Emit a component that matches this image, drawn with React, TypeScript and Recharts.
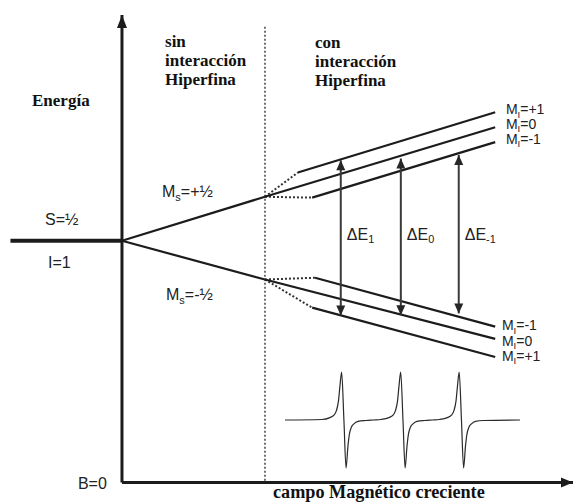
import { LineChart, Line, XAxis, YAxis, ReferenceDot } from 'recharts';

// Field B in arbitrary units (0 at the energy axis, 100 at the dashed line),
// energy E in arbitrary units (0 = zero-field level).
const fieldDomain = [-85.3, 316.1];
const energyDomain = [-59.8, 54.7];
const signalDomain = [-1.75, 8.75];

const zeroFieldLevel = [{ B: -78, E: 0 }, { B: 0, E: 0 }];
const msUpper = [{ B: 0, E: 0 }, { B: 100, E: 10 }];
const msLower = [{ B: 0, E: 0 }, { B: 100, E: -8.8 }];

// hyperfine levels, top to bottom
const upperLevels = [
  [{ B: 123, E: 15.5 }, { B: 261, E: 29.2 }],
  [{ B: 100, E: 10 }, { B: 261, E: 25.8 }],
  [{ B: 133, E: 9.8 }, { B: 261, E: 22.4 }],
];
const lowerLevels = [
  [{ B: 135, E: -8.4 }, { B: 261, E: -19.5 }],
  [{ B: 100, E: -8.8 }, { B: 261, E: -22.3 }],
  [{ B: 133, E: -15.2 }, { B: 261, E: -26.4 }],
];
const upperLabels = ['+1', '0', '-1'];
const lowerLabels = ['-1', '0', '+1'];

// transitions
const transitionField = [153, 195, 235.5];
const transitionLow = [-17.0, -16.9, -16.5];
const transitionHigh = [18.3, 18.7, 19.5];
const transitionLabels = ['1', '0', '-1'];

// EPR spectrum (first derivative), B vs signal
const spectrum = [
  { B: 114, S: 0 }, { B: 139.8, S: 0.01 }, { B: 145.4, S: 0.05 }, { B: 148.2, S: 0.1 },
  { B: 150, S: 0.2 }, { B: 151.4, S: 0.4 }, { B: 152.4, S: 0.7 }, { B: 153.6, S: 1.0 },
  { B: 155.2, S: 0 }, { B: 156.7, S: -1.0 }, { B: 158, S: -0.55 }, { B: 159, S: -0.3 },
  { B: 160.4, S: -0.15 }, { B: 162.2, S: -0.08 }, { B: 165, S: -0.03 }, { B: 170.6, S: -0.01 },
  { B: 176, S: 0 }, { B: 181.1, S: 0.01 }, { B: 186.7, S: 0.05 }, { B: 189.5, S: 0.1 },
  { B: 191.3, S: 0.2 }, { B: 192.7, S: 0.4 }, { B: 193.7, S: 0.7 }, { B: 194.9, S: 1.0 },
  { B: 196.5, S: 0 }, { B: 198, S: -1.0 }, { B: 199.3, S: -0.55 }, { B: 200.3, S: -0.3 },
  { B: 201.7, S: -0.15 }, { B: 203.5, S: -0.08 }, { B: 206.3, S: -0.03 }, { B: 211.9, S: -0.01 },
  { B: 217, S: 0 }, { B: 222, S: 0.01 }, { B: 227.6, S: 0.05 }, { B: 230.4, S: 0.1 },
  { B: 232.2, S: 0.2 }, { B: 233.6, S: 0.4 }, { B: 234.6, S: 0.7 }, { B: 235.8, S: 1.0 },
  { B: 237.4, S: 0 }, { B: 238.9, S: -1.0 }, { B: 240.2, S: -0.55 }, { B: 241.2, S: -0.3 },
  { B: 242.6, S: -0.15 }, { B: 244.4, S: -0.08 }, { B: 247.2, S: -0.03 }, { B: 252.8, S: -0.01 },
  { B: 278.3, S: 0 },
];

const energyAxis = [{ B: 0, E: -54.9 }, { B: 0, E: 51.3 }];
const fieldAxis = [{ B: 0, E: -54.9 }, { B: 315.4, E: -54.9 }];
const dividerLine = [{ B: 100, E: 48.6 }, { B: 100, E: -54.9 }];

const SANS = '"Liberation Sans", Arial, sans-serif';
const SERIF = '"Liberation Serif", "DejaVu Serif", serif';
const INK = '#1c1c1c';

type Part = { t: string; sub?: boolean };

const rich = (parts: Part[], size = 16, anchor = 'start') => (p: any) => {
  let shift = 0;
  return (
    <text x={p.cx} y={p.cy} style={{ fontFamily: SANS }} fontSize={size} fill="#222" textAnchor={anchor}>
      {parts.map((part, i) => {
        const dy = part.sub ? 3.5 - shift : -shift;
        shift = part.sub ? 3.5 : 0;
        return (
          <tspan key={i} dy={dy} fontSize={part.sub ? size * 0.68 : size}>
            {part.t}
          </tspan>
        );
      })}
    </text>
  );
};

const heading = (lines: string[], size = 17, gap = 19) => (p: any) => (
  <text
    x={p.cx}
    y={p.cy}
    style={{ fontFamily: SERIF, fontWeight: 700 }}
    fontSize={size}
    fill="#111"
  >
    {lines.map((l, i) => (
      <tspan key={i} x={p.cx} dy={i === 0 ? 0 : gap}>
        {l}
      </tspan>
    ))}
  </text>
);

const arrowUp = (w: number, h: number, fill: string) => (p: any) =>
  p.index === 1 ? (
    <polygon key={p.index} points={`${p.cx},${p.cy} ${p.cx - w / 2},${p.cy + h} ${p.cx + w / 2},${p.cy + h}`} fill={fill} />
  ) : (
    <g key={p.index} />
  );

const doubleArrow = (p: any) => {
  const w = 9;
  const h = 10;
  const pts =
    p.index === 1
      ? `${p.cx},${p.cy} ${p.cx - w / 2},${p.cy + h} ${p.cx + w / 2},${p.cy + h}`
      : `${p.cx},${p.cy} ${p.cx - w / 2},${p.cy - h} ${p.cx + w / 2},${p.cy - h}`;
  return <polygon key={p.index} points={pts} fill="#262626" />;
};

const arrowRight = (p: any) =>
  p.index === 1 ? (
    <polygon key={p.index} points={`${p.cx},${p.cy} ${p.cx - 12},${p.cy - 5} ${p.cx - 12},${p.cy + 5}`} fill={INK} />
  ) : (
    <g key={p.index} />
  );

export default function App() {
  const level = (data: any[], key: string, extra: any = {}) => (
    <Line
      key={key}
      data={data}
      dataKey="E"
      type="linear"
      stroke={INK}
      strokeWidth={2.2}
      dot={false}
      activeDot={false}
      isAnimationActive={false}
      {...extra}
    />
  );

  return (
    <div style={{ position: 'absolute', left: 0, top: 0, width: 574, height: 504, background: '#fff' }}>
      <LineChart width={574} height={504} margin={{ top: 0, right: 0, bottom: 0, left: 0 }}>
        <XAxis type="number" dataKey="B" domain={fieldDomain} hide />
        <YAxis type="number" domain={energyDomain} hide />
        <YAxis yAxisId="signal" type="number" domain={signalDomain} hide />

        {/* dashed divider */}
        {level(dividerLine, 'divider', { stroke: '#444', strokeWidth: 1.5, strokeDasharray: '2 2' })}

        {/* axes */}
        {level(energyAxis, 'eaxis', { strokeWidth: 3, dot: arrowUp(10, 13, INK) })}
        {level(fieldAxis, 'baxis', { strokeWidth: 3, dot: arrowRight })}

        {/* zero-field level and electron Zeeman levels */}
        {level(zeroFieldLevel, 'zero', { strokeWidth: 4 })}
        {level(msUpper, 'msUp')}
        {level(msLower, 'msDown')}

        {/* dotted connectors to the hyperfine levels */}
        {upperLevels.map((l, i) =>
          level([msUpper[1], l[0]], `uc${i}`, { strokeWidth: 2, strokeDasharray: '2 2', stroke: '#333' }),
        )}
        {lowerLevels.map((l, i) =>
          level([msLower[1], l[0]], `lc${i}`, { strokeWidth: 2, strokeDasharray: '2 2', stroke: '#333' }),
        )}

        {upperLevels.map((l, i) => level(l, `u${i}`))}
        {lowerLevels.map((l, i) => level(l, `l${i}`))}

        {/* transitions */}
        {transitionField.map((b, i) =>
          level(
            [
              { B: b, E: transitionLow[i] },
              { B: b, E: transitionHigh[i] },
            ],
            `t${i}`,
            { stroke: '#3a3a3a', strokeWidth: 2, dot: doubleArrow },
          ),
        )}

        {/* spectrum */}
        <Line
          data={spectrum}
          dataKey="S"
          yAxisId="signal"
          type="monotone"
          stroke="#2a2a2a"
          strokeWidth={1.2}
          dot={false}
          activeDot={false}
          isAnimationActive={false}
        />

        {/* text */}
        <ReferenceDot x={30.1} y={44.0} r={0} shape={heading(['sin', 'interacción', 'Hiperfina'])} />
        <ReferenceDot x={135} y={43.8} r={0} shape={heading(['con', 'interacción', 'Hiperfina'])} />
        <ReferenceDot x={-62.9} y={30.6} r={0} shape={heading(['Energía'])} />
        <ReferenceDot x={105.6} y={-58.5} r={0} shape={heading(['campo Magnético creciente'], 18.2)} />

        <ReferenceDot x={28} y={9.9} r={0} shape={rich([{ t: 'M' }, { t: 's', sub: true }, { t: '=+½' }])} />
        <ReferenceDot x={30.8} y={-13.5} r={0} shape={rich([{ t: 'M' }, { t: 's', sub: true }, { t: '=-½' }])} />
        <ReferenceDot x={-53.8} y={3.6} r={0} shape={rich([{ t: 'S=½' }])} />
        <ReferenceDot x={-51.7} y={-6.1} r={0} shape={rich([{ t: 'I=1' }])} />
        <ReferenceDot x={-30.8} y={-56.4} r={0} shape={rich([{ t: 'B=0' }])} />

        {transitionField.map((b, i) => (
          <ReferenceDot
            key={`dl${i}`}
            x={b + 4.2}
            y={0.2}
            r={0}
            shape={rich([{ t: 'ΔE' }, { t: transitionLabels[i], sub: true }])}
          />
        ))}

        {upperLabels.map((m, i) => (
          <ReferenceDot
            key={`ul${i}`}
            x={268.5}
            y={28.8 - i * 3.4}
            r={0}
            shape={rich([{ t: 'M' }, { t: 'I', sub: true }, { t: `=${m}` }], 14)}
          />
        ))}
        {lowerLabels.map((m, i) => (
          <ReferenceDot
            key={`ll${i}`}
            x={265.7}
            y={-20.3 - i * 3.5}
            r={0}
            shape={rich([{ t: 'M' }, { t: 'I', sub: true }, { t: `=${m}` }], 14)}
          />
        ))}
      </LineChart>
    </div>
  );
}
